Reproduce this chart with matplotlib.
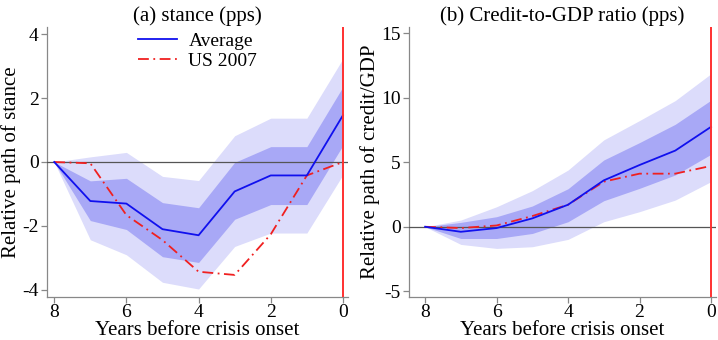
import matplotlib
matplotlib.use("Agg")
import matplotlib.pyplot as plt
import numpy as np

plt.rcParams['font.family'] = ['Liberation Serif', 'DejaVu Serif']
plt.rcParams['axes.unicode_minus'] = False

years = [8, 7, 6, 5, 4, 3, 2, 1, 0]

# Panel (a): stance
a_avg = [0, -1.22, -1.30, -2.10, -2.29, -0.92, -0.42, -0.42, 1.46]
a_us = [0, -0.04, -1.66, -2.44, -3.43, -3.53, -2.26, -0.42, 0]
a_in_hi = [0, -0.59, -0.51, -1.27, -1.43, -0.01, 0.48, 0.48, 2.35]
a_in_lo = [0, -1.83, -2.11, -2.96, -3.14, -1.79, -1.33, -1.33, 0.52]
a_out_hi = [0, 0.16, 0.30, -0.45, -0.58, 0.82, 1.37, 1.37, 3.23]
a_out_lo = [0, -2.43, -2.90, -3.76, -3.97, -2.64, -2.22, -2.22, -0.40]

# Panel (b): credit-to-GDP
b_avg = [0, -0.39, -0.10, 0.65, 1.71, 3.60, 4.79, 5.91, 7.75]
b_us = [0, -0.10, 0.10, 0.83, 1.71, 3.50, 4.12, 4.12, 4.72]
b_in_hi = [0, 0.34, 0.78, 1.61, 2.95, 5.18, 6.53, 7.95, 9.82]
b_in_lo = [0, -0.91, -0.91, -0.52, 0.39, 2.02, 2.98, 4.02, 5.62]
b_out_hi = [0, 0.52, 1.55, 2.80, 4.40, 6.74, 8.24, 9.79, 11.87]
b_out_lo = [0, -1.37, -1.68, -1.55, -0.98, 0.39, 1.17, 2.07, 3.50]

titles = ["(a) stance (pps)", "(b) Credit-to-GDP ratio (pps)"]
ylabels = ["Relative path of stance", "Relative path of credit/GDP"]
xticks = [8, 6, 4, 2, 0]
yticks_a = [-4, -2, 0, 2, 4]
yticks_b = [-5, 0, 5, 10, 15]

W, H = 718, 340
fig = plt.figure(figsize=(W / 100, H / 100), dpi=100)

light = '#dcdcfb'
dark = '#a8a8f6'
blue = '#1010ee'
red = '#f02020'

panels = [
    dict(pos=(47, 27, 348, 297), xlim=(8.2, -0.14), ylim=(-4.22, 4.22), yt=yticks_a,
         avg=a_avg, us=a_us, ih=a_in_hi, il=a_in_lo, oh=a_out_hi, ol=a_out_lo),
    dict(pos=(409, 27, 716, 297), xlim=(8.45, -0.14), ylim=(-5.45, 15.5), yt=yticks_b,
         avg=b_avg, us=b_us, ih=b_in_hi, il=b_in_lo, oh=b_out_hi, ol=b_out_lo),
]

for i, p in enumerate(panels):
    l, t, r, b = p['pos']
    ax = fig.add_axes([l / W, 1 - b / H, (r - l) / W, (b - t) / H])
    ax.fill_between(years, p['ol'], p['oh'], color=light, lw=0, zorder=1)
    ax.fill_between(years, p['il'], p['ih'], color=dark, lw=0, zorder=2)
    ax.axhline(0, color='#555555', lw=0.9, zorder=3)
    ax.plot(years, p['avg'], color=blue, lw=1.3, zorder=5, label='Average')
    ax.plot(years, p['us'], color=red, lw=1.3, dashes=(6, 2.5, 1, 2.5), zorder=4, label='US 2007')
    ax.axvline(0, color='#ff3030', lw=1.4, zorder=6)
    ax.set_xlim(*p['xlim'])
    ax.set_ylim(*p['ylim'])
    ax.set_xticks(xticks)
    ax.set_yticks(p['yt'])
    for s in ['top', 'right']:
        ax.spines[s].set_visible(False)
    for s in ['left', 'bottom']:
        ax.spines[s].set_color('#888888')
        ax.spines[s].set_linewidth(0.9)
    ax.tick_params(colors='#888888', labelcolor='black', labelsize=14, length=4, width=0.9, pad=2)
    ax.tick_params(axis='x', pad=1)
    ax.set_title(titles[i], fontsize=15, pad=4)
    ax.set_xlabel("Years before crisis onset", fontsize=15, labelpad=0)
    ax.set_ylabel(ylabels[i], fontsize=15, labelpad=1)
    ax.set_facecolor('white')
    if i == 0:
        ax.legend(loc='upper center', frameon=False, fontsize=14, handlelength=2.0,
                  borderaxespad=0.0, labelspacing=0.15, handletextpad=0.6,
                  bbox_to_anchor=(0.5, 1.01))

fig.savefig("out.png", dpi=100)
